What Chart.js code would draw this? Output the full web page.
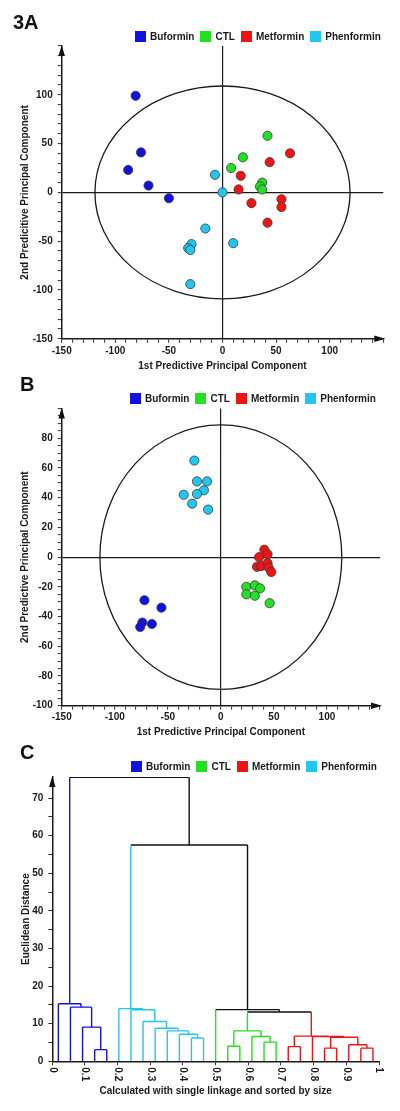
<!DOCTYPE html>
<html>
<head>
<meta charset="utf-8">
<script src="https://cdn.jsdelivr.net/npm/chart.js"></script>
<style>
  body { margin: 0; background: #fff; font-family: "Liberation Sans", Arial, sans-serif; color: #1a1a1a; }
  #page { position: relative; width: 400px; height: 1111px; overflow: hidden; }
  .panel { position: absolute; left: 0; width: 400px; }
  .tag { position: absolute; font-weight: bold; font-size: 20px; line-height: 20px; color: #111; }
  .legend { position: absolute; display: flex; align-items: center; font-weight: bold; font-size: 10px; line-height: 11px; white-space: nowrap; z-index: 2; }
  .legend .item { display: flex; align-items: center; margin-right: 6px; }
  .legend .box { display: inline-block; width: 11px; height: 11px; margin-right: 4px; }
</style>
</head>
<body>
<div id="page">
  <div class="panel" style="top:0;height:372px"><canvas id="chartA"></canvas></div>
  <div class="panel" style="top:372px;height:366px"><canvas id="chartB"></canvas></div>
  <div class="panel" style="top:738px;height:373px"><canvas id="chartC"></canvas></div>

  <div class="tag" style="left:13px;top:12px">3A</div>
  <div class="tag" style="left:20px;top:374px">B</div>
  <div class="tag" style="left:20px;top:742px">C</div>
  <div class="legend" id="legendA" style="left:135px;top:31px"></div>
  <div class="legend" id="legendB" style="left:130px;top:393px"></div>
  <div class="legend" id="legendC" style="left:131px;top:761px"></div>
</div>

<script>
// groups
const groups = ["Buformin", "CTL", "Metformin", "Phenformin"];
const groupColors = ["#1212e0", "#22e022", "#ee1414", "#22c6f2"];

// panel A scores [1st, 2nd predictive component]
const scoresA_Buformin = [[-81, 99], [-76, 41], [-88, 23], [-69, 7], [-50, -6]];
const scoresA_CTL = [[42, 58], [19, 36], [8, 25], [37, 10], [35, 6], [37, 3]];
const scoresA_Metformin = [[63, 40], [44, 31], [17, 17], [15, 3], [27, -11], [55, -7], [55, -15], [42, -31]];
const scoresA_Phenformin = [[-7, 18], [0, 0], [-16, -37], [-29, -53], [-32, -57], [-30, -59], [10, -52], [-30, -94]];
const ellipseA = [119, 109];

// panel B scores
const scoresB_Buformin = [[-72, -29], [-56, -34], [-74, -44], [-76, -47], [-65, -45]];
const scoresB_CTL = [[24, -20], [32, -19], [37, -21], [24, -25], [32, -26], [46, -31]];
const scoresB_Metformin = [[41, 5], [44, 2], [36, 0], [34, -6.5], [38, -6], [44, -4], [45, -7], [47.5, -10]];
const scoresB_Phenformin = [[-25, 65], [-22.5, 51], [-13, 51], [-16, 45], [-22.5, 42.5], [-35, 42], [-27, 36], [-12, 32]];
const ellipseB = [114, 89];

// panel C dendrogram: group of each leaf (in plotted order), then merges
const leafGroup = [0, 0, 0, 0, 0, 3, 3, 3, 3, 3, 3, 3, 3, 1, 1, 1, 1, 1, 1, 2, 2, 2, 2, 2, 2, 2, 2];
const mergeLeft = [3, 2, 1, 0, 11, 10, 9, 8, 7, 6, 5, 14, 17, 16, 38, 19, 25, 24, 22, 45, 21, 42, 41, 13, 37, 30];
const mergeRight = [4, 27, 28, 29, 12, 31, 32, 33, 34, 35, 36, 15, 18, 39, 40, 20, 26, 43, 23, 44, 46, 47, 48, 49, 50, 51];
const mergeHeight = [3.1, 9.1, 14.4, 15.3, 6.2, 7.2, 8.1, 8.8, 10.6, 13.7, 14.0, 4.0, 5.1, 6.6, 8.1, 3.9, 3.5, 4.4, 3.5, 6.4, 6.6, 6.7, 13.1, 13.75, 57.5, 75.5];

const textColor = "#1a1a1a";
const tickFont = { family: "'Liberation Sans', Arial, sans-serif", size: 10, weight: "bold" };
const titleFont = { family: "'Liberation Sans', Arial, sans-serif", size: 10, weight: "bold" };

// html legends
["legendA", "legendB", "legendC"].forEach(function (id) {
  const el = document.getElementById(id);
  groups.forEach(function (g, i) {
    const item = document.createElement("div");
    item.className = "item";
    item.innerHTML = '<span class="box" style="background:' + groupColors[i] + '"></span>' + g;
    el.appendChild(item);
  });
});

const ellipsePlugin = {
  id: "ellipse",
  beforeDatasetsDraw(chart, args, opts) {
    const ctx = chart.ctx, x = chart.scales.x, y = chart.scales.y;
    const cx = x.getPixelForValue(0), cy = y.getPixelForValue(0);
    const rx = Math.abs(x.getPixelForValue(opts.rx) - cx);
    const ry = Math.abs(y.getPixelForValue(opts.ry) - cy);
    ctx.save();
    ctx.strokeStyle = textColor;
    ctx.lineWidth = 1.3;
    ctx.beginPath();
    ctx.ellipse(cx, cy, rx, ry, 0, 0, Math.PI * 2);
    ctx.stroke();
    ctx.restore();
  }
};

const arrowPlugin = {
  id: "arrows",
  afterDraw(chart, args, opts) {
    const ctx = chart.ctx, a = chart.chartArea;
    ctx.save();
    ctx.fillStyle = "#111";
    ctx.beginPath();
    ctx.moveTo(a.left, a.top - 1);
    ctx.lineTo(a.left - 3.2, a.top + 10);
    ctx.lineTo(a.left + 3.2, a.top + 10);
    ctx.closePath();
    ctx.fill();
    if (opts.xArrow) {
      ctx.beginPath();
      ctx.moveTo(a.right + 2, a.bottom);
      ctx.lineTo(a.right - 9, a.bottom - 3.2);
      ctx.lineTo(a.right - 9, a.bottom + 3.2);
      ctx.closePath();
      ctx.fill();
    }
    ctx.restore();
  }
};

function scoreChart(id, sets, ellipse, yMax, yStep, yLabelStep, yTitle, geom) {
  return new Chart(document.getElementById(id), {
    type: "scatter",
    data: {
      datasets: sets.map(function (pts, i) {
        return {
          label: groups[i],
          data: pts.map(function (p) { return { x: p[0], y: p[1] }; }),
          backgroundColor: groupColors[i],
          borderColor: "#3a3a3a",
          borderWidth: 0.8,
          pointRadius: 4.6,
          pointHoverRadius: 4.6
        };
      })
    },
    options: {
      animation: false,
      responsive: true,
      maintainAspectRatio: false,
      layout: { padding: { top: geom.top, right: geom.right, left: 0, bottom: 0 } },
      plugins: {
        legend: { display: false },
        tooltip: { enabled: false },
        ellipse: { rx: ellipse[0], ry: ellipse[1] },
        arrows: { xArrow: true }
      },
      scales: {
        x: {
          type: "linear", min: -150, max: 150,
          afterFit: function (s) { s.height = geom.xh; },
          ticks: {
            stepSize: 10, autoSkip: false, maxRotation: 0, padding: 2, color: textColor, font: tickFont,
            callback: function (v) { return (v % 50 === 0 && v !== 150) ? v : ""; }
          },
          grid: {
            color: function (c) { return (c.tick && c.tick.value === 0) ? textColor : "rgba(0,0,0,0)"; },
            lineWidth: 1.2, tickColor: "#333", tickLength: 4, tickWidth: 1
          },
          border: { color: textColor, width: 1.5 },
          title: { display: true, text: "1st Predictive Principal Component", font: titleFont, color: textColor, padding: { top: 0, bottom: 0 } }
        },
        y: {
          type: "linear", min: -yMax, max: yMax,
          afterFit: function (s) { s.width = geom.yw; },
          ticks: {
            stepSize: yStep, autoSkip: false, padding: 5, color: textColor, font: tickFont,
            callback: function (v) { return (v % yLabelStep === 0 && v !== yMax) ? v : ""; }
          },
          grid: {
            color: function (c) { return (c.tick && c.tick.value === 0) ? textColor : "rgba(0,0,0,0)"; },
            lineWidth: 1.2, tickColor: "#333", tickLength: 4, tickWidth: 1
          },
          border: { color: textColor, width: 1.5 },
          title: { display: true, text: yTitle, font: titleFont, color: textColor, padding: { top: 19, bottom: 0 } }
        }
      }
    },
    plugins: [ellipsePlugin, arrowPlugin]
  });
}

scoreChart("chartA", [scoresA_Buformin, scoresA_CTL, scoresA_Metformin, scoresA_Phenformin], ellipseA,
  150, 10, 50, "2nd Predicitive Principal Component", { top: 46, right: 16.7, xh: 33.2, yw: 61.7 });
scoreChart("chartB", [scoresB_Buformin, scoresB_CTL, scoresB_Metformin, scoresB_Phenformin], ellipseB,
  100, 5, 20, "2nd Predictive Principal Component", { top: 36.6, right: 20, xh: 32.3, yw: 61.7 });

// dendrogram: node positions from leaf order
const nLeaves = leafGroup.length;
const nodeX = [], nodeH = [], nodeGroup = [];
leafGroup.forEach(function (g, i) {
  nodeX.push((i + 0.5) / nLeaves); nodeH.push(0); nodeGroup.push(g);
});
mergeLeft.forEach(function (l, k) {
  const r = mergeRight[k];
  nodeX.push((nodeX[l] + nodeX[r]) / 2);
  nodeH.push(mergeHeight[k]);
  nodeGroup.push(nodeGroup[l] === nodeGroup[r] ? nodeGroup[l] : -1);
});
// segments by colour (index 4 = black links between groups)
const segs = [[], [], [], [], []];
function addSeg(g, pts) {
  const list = segs[g < 0 ? 4 : g];
  pts.forEach(function (p) { list.push({ x: p[0], y: p[1] }); });
  list.push({ x: pts[0][0], y: null });
}
mergeLeft.forEach(function (l, k) {
  const r = mergeRight[k], n = nLeaves + k, h = mergeHeight[k];
  addSeg(nodeGroup[l], [[nodeX[l], nodeH[l]], [nodeX[l], h]]);
  addSeg(nodeGroup[r], [[nodeX[r], nodeH[r]], [nodeX[r], h]]);
  addSeg(nodeGroup[n], [[nodeX[l], h], [nodeX[r], h]]);
});
const linkColors = groupColors.concat(["#111111"]);

const rotatedLabels = {
  id: "rotLabels",
  afterDraw(chart) {
    const ctx = chart.ctx, x = chart.scales.x, a = chart.chartArea;
    ctx.save();
    ctx.fillStyle = textColor;
    ctx.font = "bold 10px 'Liberation Sans', Arial, sans-serif";
    ctx.textAlign = "left";
    ctx.textBaseline = "middle";
    x.ticks.forEach(function (t) {
      ctx.save();
      ctx.translate(x.getPixelForValue(t.value), a.bottom + 6);
      ctx.rotate(Math.PI / 2);
      ctx.fillText(String(Math.round(t.value * 10) / 10), 0, 0);
      ctx.restore();
    });
    ctx.restore();
  }
};

new Chart(document.getElementById("chartC"), {
  type: "scatter",
  data: {
    datasets: segs.map(function (s, i) {
      return {
        data: s, showLine: true, spanGaps: false, pointRadius: 0, pointHoverRadius: 0,
        borderColor: linkColors[i], backgroundColor: linkColors[i], borderWidth: 1.4
      };
    })
  },
  options: {
    animation: false,
    responsive: true,
    maintainAspectRatio: false,
    layout: { padding: { top: 39, right: 21, left: 0, bottom: 0 } },
    plugins: { legend: { display: false }, tooltip: { enabled: false }, arrows: { xArrow: false } },
    scales: {
      x: {
        type: "linear", min: 0, max: 1,
        afterFit: function (s) { s.height = 49.7; },
        ticks: { stepSize: 0.1, autoSkip: false, maxRotation: 0, color: "rgba(0,0,0,0)", font: tickFont },
        grid: { color: "rgba(0,0,0,0)", tickColor: "#333", tickLength: 4, tickWidth: 1 },
        border: { color: textColor, width: 1.5 },
        title: { display: true, text: "Calculated with single linkage and sorted by size", font: titleFont, color: textColor, padding: { top: 0, bottom: 14 } }
      },
      y: {
        type: "linear", min: 0, max: 75.6,
        afterFit: function (s) { s.width = 52.3; },
        afterBuildTicks: function (s) { s.ticks = s.ticks.filter(function (t) { return t.value % 5 === 0; }); },
        ticks: {
          stepSize: 5, autoSkip: false, padding: 5, color: textColor, font: tickFont,
          callback: function (v) { return v % 10 === 0 ? v : ""; }
        },
        grid: { color: "rgba(0,0,0,0)", tickColor: "#333", tickLength: 4, tickWidth: 1 },
        border: { color: textColor, width: 1.5 },
        title: { display: true, text: "Euclidean Distance", font: titleFont, color: textColor, padding: { top: 20, bottom: 0 } }
      }
    }
  },
  plugins: [arrowPlugin, rotatedLabels]
});
</script>
</body>
</html>
